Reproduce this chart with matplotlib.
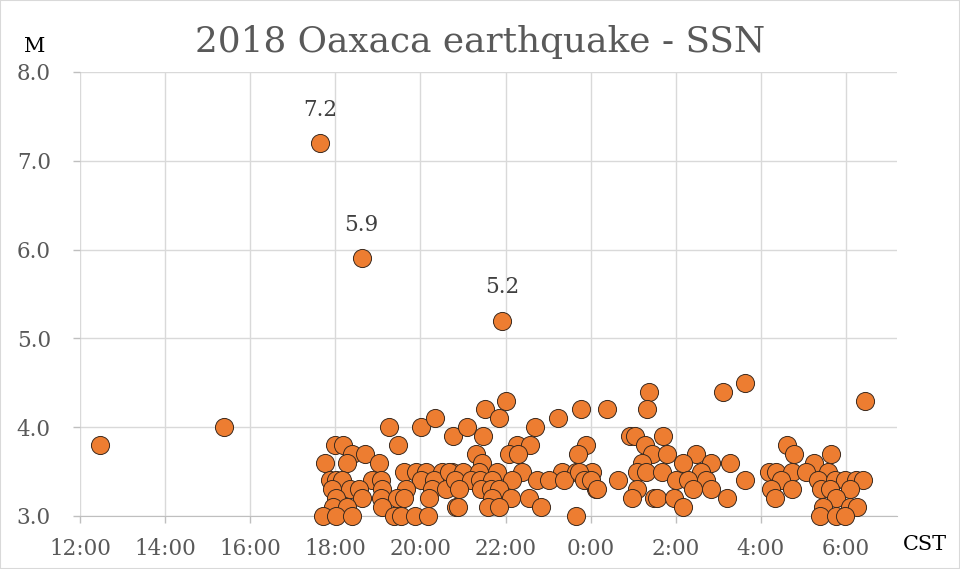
import matplotlib
matplotlib.use("Agg")
import matplotlib.pyplot as plt
from matplotlib.patches import Rectangle

plt.rcParams['font.family'] = ['DejaVu Serif']

# Aftershock times (CST) and magnitudes
times = [
    "12:28", "15:23", "17:39", "18:37", "21:55",
    "19:15", "20:01", "20:21", "20:46", "18:00", "18:11", "19:29",
    "18:23", "18:42", "17:46", "18:17", "19:02",
    "19:37", "19:54", "20:08", "20:31", "20:45",
    "17:53", "18:01", "18:10", "18:52", "19:05", "20:01", "20:19", "20:50",
    "17:56", "18:21", "18:34", "19:06", "19:40", "20:17", "20:36",
    "18:01", "18:37", "19:05", "19:27", "19:37", "20:12",
    "17:57", "18:17", "19:06", "20:50",
    "17:42", "18:01", "18:23", "19:23", "19:33", "19:53", "20:11",
    "22:01", "21:31", "21:51", "23:14", "23:46", "21:06", "22:41", "21:28",
    "21:18", "22:16", "22:34", "23:53", "22:05", "22:18", "23:42", "21:27",
    "20:40", "21:00", "21:23", "21:48", "22:23", "23:19", "23:39", "0:02",
    "20:49", "21:11", "21:24", "21:41", "22:09", "22:44", "23:01", "23:22", "23:57",
    "20:55", "21:25", "21:40", "21:51", "0:07",
    "21:41", "22:08", "22:33",
    "20:53", "21:35", "21:51", "22:50",
    "23:39",
    "1:23", "3:06", "0:23", "1:19", "0:55", "1:02", "1:42", "1:16",
    "1:26", "1:47", "2:29", "1:12", "2:10", "2:50", "3:17",
    "23:43", "1:06", "1:18", "1:40", "2:35",
    "23:50", "0:00", "0:38", "2:01", "2:18", "2:43",
    "0:09", "1:05", "2:25", "2:50",
    "0:59", "1:29", "1:33", "1:57", "3:12",
    "2:10",
    "3:38", "6:27", "4:37", "4:47", "5:39", "5:15",
    "4:11", "4:22", "4:44", "5:04", "5:35",
    "3:37", "4:28", "5:20", "5:45", "5:59", "6:14", "6:24",
    "4:15", "4:44", "5:25", "5:37", "6:06",
    "4:20", "5:46",
    "5:27", "6:06", "6:16",
    "5:24", "5:46", "5:59",
]
magnitudes = [
    3.8, 4.0, 7.2, 5.9, 5.2,
    4.0, 4.0, 4.1, 3.9, 3.8, 3.8, 3.8,
    3.7, 3.7, 3.6, 3.6, 3.6,
    3.5, 3.5, 3.5, 3.5, 3.5,
    3.4, 3.4, 3.4, 3.4, 3.4, 3.4, 3.4, 3.4,
    3.3, 3.3, 3.3, 3.3, 3.3, 3.3, 3.3,
    3.2, 3.2, 3.2, 3.2, 3.2, 3.2,
    3.1, 3.1, 3.1, 3.1,
    3.0, 3.0, 3.0, 3.0, 3.0, 3.0, 3.0,
    4.3, 4.2, 4.1, 4.1, 4.2, 4.0, 4.0, 3.9,
    3.7, 3.8, 3.8, 3.8, 3.7, 3.7, 3.7, 3.6,
    3.5, 3.5, 3.5, 3.5, 3.5, 3.5, 3.5, 3.5,
    3.4, 3.4, 3.4, 3.4, 3.4, 3.4, 3.4, 3.4, 3.4,
    3.3, 3.3, 3.3, 3.3, 3.3,
    3.2, 3.2, 3.2,
    3.1, 3.1, 3.1, 3.1,
    3.0,
    4.4, 4.4, 4.2, 4.2, 3.9, 3.9, 3.9, 3.8,
    3.7, 3.7, 3.7, 3.6, 3.6, 3.6, 3.6,
    3.5, 3.5, 3.5, 3.5, 3.5,
    3.4, 3.4, 3.4, 3.4, 3.4, 3.4,
    3.3, 3.3, 3.3, 3.3,
    3.2, 3.2, 3.2, 3.2, 3.2,
    3.1,
    4.5, 4.3, 3.8, 3.7, 3.7, 3.6,
    3.5, 3.5, 3.5, 3.5, 3.5,
    3.4, 3.4, 3.4, 3.4, 3.4, 3.4, 3.4,
    3.3, 3.3, 3.3, 3.3, 3.3,
    3.2, 3.2,
    3.1, 3.1, 3.1,
    3.0, 3.0, 3.0,
]
labelled_times = ["17:39", "18:37", "21:55"]
labelled_mags = [7.2, 5.9, 5.2]
x_tick_hours = [12, 14, 16, 18, 20, 22, 24, 26, 28, 30]
y_ticks = [3.0, 4.0, 5.0, 6.0, 7.0, 8.0]


def to_hours(s):
    h, m = s.split(":")
    v = int(h) + int(m) / 60.0
    if int(h) < 12:
        v += 24
    return v


xs = [to_hours(t) for t in times]

fig = plt.figure(figsize=(9.6, 5.69), dpi=100)
ax = fig.add_axes([80 / 960, 1 - 516 / 569, (897 - 80) / 960, (516 - 72) / 569])

grid_c = '#D9D9D9'
ax.set_xlim(12, 31.2)
ax.set_ylim(3.0, 8.0)
ax.set_xticks(x_tick_hours)
ax.set_xticklabels([f"{h % 24}:00" for h in x_tick_hours])
ax.set_yticks(y_ticks)
ax.set_yticklabels([f"{v:.1f}" for v in y_ticks])
ax.grid(True, color=grid_c, linewidth=1.0, zorder=0)
ax.set_axisbelow(True)
for s in ['top', 'right', 'left']:
    ax.spines[s].set_visible(False)
ax.spines['bottom'].set_color('#BFBFBF')
ax.tick_params(axis='x', colors='#BFBFBF', length=5, width=1, pad=11,
               labelcolor='#595959', labelsize=15.5)
ax.tick_params(axis='y', colors='#BFBFBF', length=5, width=1, pad=16,
               labelcolor='#595959', labelsize=15.5)

ax.scatter(xs, magnitudes, s=170, c='#ED7D31', edgecolors='#3C2A1E',
           linewidths=0.7, zorder=3, clip_on=False)

for t, m in zip(labelled_times, labelled_mags):
    ax.annotate(f"{m:.1f}", (to_hours(t), m), xytext=(0, 24),
                textcoords='offset points', ha='center', va='center',
                fontsize=15.5, color='#404040')

fig.text(0.5, 1 - 42 / 569, "2018 Oaxaca earthquake - SSN", ha='center',
         va='center', fontsize=25.8, color='#595959')
fig.text(35 / 960, 1 - 47 / 569, "M", ha='center', va='center',
         fontsize=15, color='black')
fig.text(925 / 960, 1 - 545 / 569, "CST", ha='center', va='center',
         fontsize=15, color='black')

fig.patches.append(Rectangle((0, 0), 1, 1, transform=fig.transFigure,
                             fill=False, edgecolor='#D9D9D9', linewidth=1.5))

fig.savefig("out.png", dpi=100)
